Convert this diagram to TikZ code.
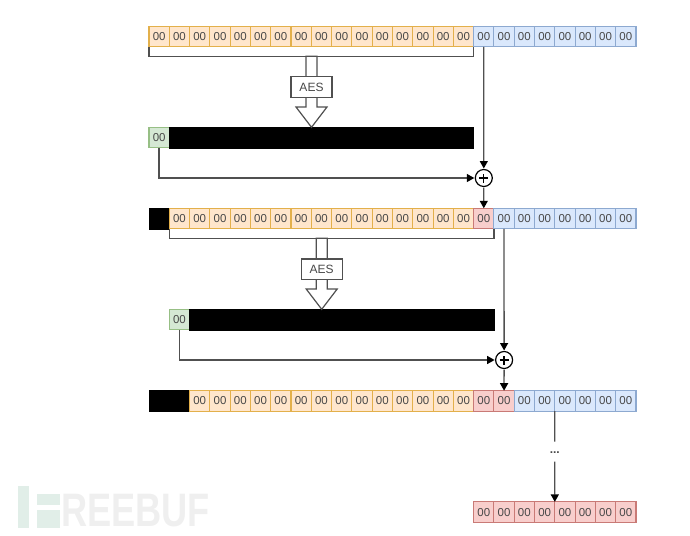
\documentclass[tikz,border=0pt]{standalone}
\usepackage{fontspec}
\setmainfont{Liberation Sans}
\usetikzlibrary{arrows.meta}
\definecolor{ofill}{HTML}{FFE6CC}\definecolor{oline}{HTML}{E3B04B}
\definecolor{bfill}{HTML}{DAE8FC}\definecolor{bline}{HTML}{8DA9D0}
\definecolor{gfill}{HTML}{D5E8D4}\definecolor{gline}{HTML}{97BF85}
\definecolor{rfill}{HTML}{F8CECC}\definecolor{rline}{HTML}{C97A76}
\definecolor{conn}{HTML}{505050}\definecolor{txt}{HTML}{484848}
\definecolor{wmg}{HTML}{E1EEE8}\definecolor{wmt}{HTML}{EFEFEF}
\tikzset{
  x=1pt,y=-1pt,
  cellbase/.style={anchor=north west,minimum width=20.29pt,minimum height=20.5pt,inner sep=0pt,outer sep=0pt,
     line width=1.1pt,text=txt,font=\fontsize{11.5}{13}\selectfont},
  ocell/.style={cellbase,fill=ofill,draw=oline},
  bcell/.style={cellbase,fill=bfill,draw=bline},
  gcell/.style={cellbase,fill=gfill,draw=gline},
  rcell/.style={cellbase,fill=rfill,draw=rline},
  blackbar/.style={anchor=north west,fill=black,draw=black,line width=.5pt,minimum height=20.5pt,inner sep=0pt,outer sep=0pt},
  aesbox/.style={draw=conn,fill=white,line width=1.2pt,minimum width=41pt,minimum height=20.5pt,inner sep=0pt,outer sep=0pt,text=txt,font=\fontsize{12}{14}\selectfont},
  hollow/.style={draw=conn,fill=white,line width=1.2pt,line join=miter},
  link/.style={draw=conn,line width=1.3pt},
  arrowlink/.style={link,-{Stealth[length=7.5pt,width=8pt,inset=0pt,color=black]}},
  bracket/.style={draw=conn,line width=1.3pt},
  xorc/.style={circle,draw=black,fill=white,line width=1.2pt,minimum size=17pt,inner sep=0pt,outer sep=1pt},
  xorplus/.style={draw=black,line width=1.3pt},
  dotsnode/.style={minimum width=14pt,minimum height=20pt,inner sep=0pt,outer sep=0pt,text=txt,font=\fontsize{12}{14}\selectfont\bfseries},
}
\newcommand{\cellrow}[5]{% prefix, from, to, y, style
  \foreach \i in {#2,...,#3}{\node[#5] (#1\i) at ({149+20.29*\i},#4) {00};}}
\begin{document}
\begin{tikzpicture}
\useasboundingbox (0,0) rectangle (690,535);
% watermark
\fill[wmg] (18,486) rectangle (29,528);
\fill[wmg] (37,494) rectangle (60,505);
\fill[wmg] (37,510) rectangle (60,528);
\node[anchor=west,inner sep=0pt,text=wmt,font=\fontsize{47}{47}\selectfont\bfseries] (wm) at (61,511) {\scalebox{.77}[1]{REEBUF}};
% row 1
\cellrow{a}{0}{15}{26.3}{ocell}
\cellrow{a}{16}{23}{26.3}{bcell}
% row 2
\node[blackbar,minimum width=20.29pt] (bk2) at (149,208.3) {};
\cellrow{b}{1}{15}{208.3}{ocell}
\cellrow{b}{16}{16}{208.3}{rcell}
\cellrow{b}{17}{23}{208.3}{bcell}
% row 3
\node[blackbar,minimum width=40.58pt] (bk3) at (149,390.7) {};
\cellrow{c}{2}{15}{390.7}{ocell}
\cellrow{c}{16}{17}{390.7}{rcell}
\cellrow{c}{18}{23}{390.7}{bcell}
% final row
\cellrow{d}{16}{23}{501.9}{rcell}
% cipher output 1
\node[gcell] (g1) at (149,127.3) {00};
\node[blackbar,minimum width=304.35pt] (k1) at (g1.north east) {};
% cipher output 2
\node[gcell] (g2) at (169.29,309.3) {00};
\node[blackbar,minimum width=304.35pt] (k2) at (g2.north east) {};
% brackets
\draw[bracket] (a0.south west) -- ++(0,9.6) -| (a15.south east);
\draw[bracket] (b1.south west) -- ++(0,9.6) -| (b16.south east);
% AES blocks
\coordinate (t1) at (311.5,127.3);
\coordinate (t2) at (321.7,309.3);
\draw[hollow] (t1) -- ++(-15.5,-20.3) -- ++(10,0) -- ++(0,-50.7) -- ++(11,0) -- ++(0,50.7) -- ++(10,0) -- cycle;
\draw[hollow] (t2) -- ++(-15.5,-20.3) -- ++(10,0) -- ++(0,-50.7) -- ++(11,0) -- ++(0,50.7) -- ++(10,0) -- cycle;
\node[aesbox] (aes1) at (311.5,87) {AES};
\node[aesbox] (aes2) at (321.7,269.3) {AES};
% xor nodes
\node[xorc] (x1) at (483.8,178) {};
\node[xorc] (x2) at (504.1,360) {};
\draw[xorplus] ([xshift=-4.5pt]x1.center) -- ([xshift=4.5pt]x1.center) ([yshift=-4.5pt]x1.center) -- ([yshift=4.5pt]x1.center);
\draw[xorplus] ([xshift=-4.5pt]x2.center) -- ([xshift=4.5pt]x2.center) ([yshift=-4.5pt]x2.center) -- ([yshift=4.5pt]x2.center);
% connectors
\draw[arrowlink] (a16.south) -- (x1.north);
\draw[arrowlink] (g1.south) |- (x1.west);
\draw[arrowlink] (x1.south) -- (b16.north);
\draw[arrowlink] (b17.south) -- (x2.north);
\draw[arrowlink] (g2.south) |- (x2.west);
\draw[arrowlink] (x2.south) -- (c17.north);
\node[dotsnode] (dots) at (554.8,451.7) {\raisebox{-4pt}{...}};
\draw[link] (c19.south east) -- (dots.north);
\draw[arrowlink] (dots.south) -- (d19.north east);
\end{tikzpicture}
\end{document}
